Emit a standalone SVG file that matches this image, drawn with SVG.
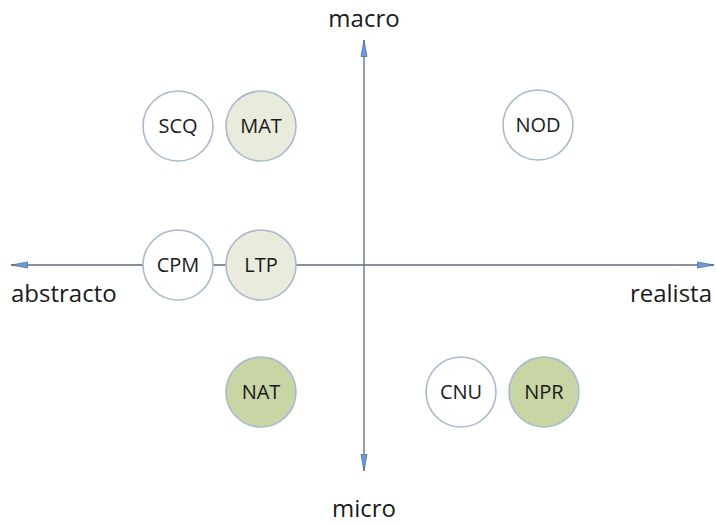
<svg xmlns="http://www.w3.org/2000/svg" width="716" height="526" viewBox="0 0 716 526">
<defs>
<style>
.axis{stroke:#5f6b7c;stroke-width:1.3;fill:none}
.n{stroke:#a9b9cc;stroke-width:1.6}
.w{fill:#ffffff}
.l{fill:#e9ebdc}
.g{fill:#c8d5a4}
.t{font-family:"Open Sans","Liberation Sans",Arial,sans-serif;font-size:20px;font-weight:500;fill:#1a1a1a;text-anchor:middle}
.a{font-family:"Open Sans","Liberation Sans",Arial,sans-serif;font-size:24px;fill:#1a1a1a}
</style>
<marker id="arr" viewBox="0 0 18 8" refX="17" refY="4" markerWidth="18" markerHeight="8" markerUnits="userSpaceOnUse" orient="auto">
<path d="M0.5,1 L17,4 L0.5,7 Z" fill="#6b9ad6" stroke="#46689a" stroke-width="0.7"/>
</marker>
</defs>
<g id="connectors">
<line class="axis" x1="364" y1="265" x2="11" y2="265" marker-end="url(#arr)"/>
<line class="axis" x1="364" y1="265" x2="714" y2="265" marker-end="url(#arr)"/>
<line class="axis" x1="364" y1="265" x2="364" y2="40" marker-end="url(#arr)"/>
<line class="axis" x1="364" y1="265" x2="364" y2="471" marker-end="url(#arr)"/>
</g>
<g id="labels">
<text class="a" x="364" y="27" text-anchor="middle">macro</text>
<text class="a" x="364" y="517" text-anchor="middle">micro</text>
<text class="a" x="11" y="302">abstracto</text>
<text class="a" x="712" y="302" text-anchor="end">realista</text>
</g>
<g id="SCQ"><circle class="n w" cx="178" cy="126" r="35"/><text class="t" x="178" y="133">SCQ</text></g>
<g id="MAT"><circle class="n l" cx="261" cy="126" r="35"/><text class="t" x="261" y="133">MAT</text></g>
<g id="NOD"><circle class="n w" cx="538" cy="125" r="35"/><text class="t" x="538" y="132">NOD</text></g>
<g id="CPM"><circle class="n w" cx="178" cy="265" r="35"/><text class="t" x="178" y="272">CPM</text></g>
<g id="LTP"><circle class="n l" cx="261" cy="265" r="35"/><text class="t" x="261" y="272">LTP</text></g>
<g id="NAT"><circle class="n g" cx="261" cy="392" r="35"/><text class="t" x="261" y="399">NAT</text></g>
<g id="CNU"><circle class="n w" cx="461" cy="392" r="35"/><text class="t" x="461" y="399">CNU</text></g>
<g id="NPR"><circle class="n g" cx="544" cy="392" r="35"/><text class="t" x="544" y="399">NPR</text></g>
</svg>
